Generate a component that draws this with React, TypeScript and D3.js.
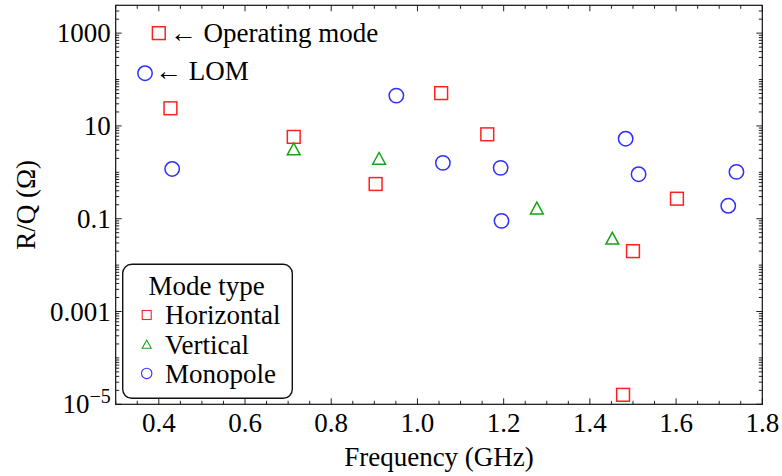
import React from "react";
import * as d3 from "d3";

const horizontalFreq = [0.427, 0.713, 0.903, 1.055, 1.162, 1.477, 1.5, 1.602];
const horizontalRQ = [24, 5.8, 0.56, 51, 6.6, 1.6e-5, 0.02, 0.27];
const verticalFreq = [0.713, 0.911, 1.277, 1.452];
const verticalRQ = [3.2, 2.0, 0.17, 0.038];
const monopoleFreq = [0.431, 0.951, 1.059, 1.193, 1.195, 1.483, 1.513, 1.721, 1.74];
const monopoleRQ = [1.18, 45, 1.6, 1.25, 0.09, 5.3, 0.91, 0.19, 1.02];

const xTickValues = [0.4, 0.6, 0.8, 1.0, 1.2, 1.4, 1.6, 1.8];
const xTickLabels = ["0.4", "0.6", "0.8", "1.0", "1.2", "1.4", "1.6", "1.8"];
const yTickValues = [1000, 10, 0.1, 0.001, 1e-5];
const yTickLabels = ["1000", "10", "0.1", "0.001", "10^-5"];

const legendTitle = "Mode type";
const legendLabels = ["Horizontal", "Vertical", "Monopole"];
const annotOperating = { f: 0.4, rq: 1000, text: "\u2190 Operating mode" };
const annotLOM = { f: 0.368, rq: 137, text: "\u2190 LOM" };

const W = 782, H = 476;
const L = 115.7, R = 762.3, T = 5.3, B = 404.3;
const RED = "#ff2020", GREEN = "#16a316", BLUE = "#2e2eff";
const FONT = "'Liberation Serif', 'DejaVu Serif', serif";
const FS = 27;

const x = d3.scaleLinear().domain([0.3, 1.8]).range([L, R]);
const y = d3.scaleLog().domain([1e-5, Math.pow(10, 3.6)]).range([B, T]);

function Square({ cx, cy, s, color, sw = 1.5 }: any) {
  return <rect x={cx - s / 2} y={cy - s / 2} width={s} height={s} fill="none" stroke={color} strokeWidth={sw} />;
}
function Circle({ cx, cy, r, color, sw = 1.5 }: any) {
  return <circle cx={cx} cy={cy} r={r} fill="none" stroke={color} strokeWidth={sw} />;
}
function Triangle({ cx, cy, w, h, color, sw = 1.5 }: any) {
  const p = `${cx - w / 2},${cy + h / 2} ${cx + w / 2},${cy + h / 2} ${cx},${cy - h / 2}`;
  return <polygon points={p} fill="none" stroke={color} strokeWidth={sw} strokeLinejoin="miter" />;
}

export default function App() {
  const xMinor = d3.range(0.3, 1.8001, 0.05).filter(
    (v) => !xTickValues.some((t) => Math.abs(t - v) < 1e-6)
  );
  const yMinor: number[] = [];
  for (let n = -5; n <= 3; n++) {
    for (let m = 1; m <= 9; m++) {
      const v = m * Math.pow(10, n);
      if (v > Math.pow(10, 3.6) || v < 1e-5) continue;
      if (yTickValues.some((t) => Math.abs(Math.log10(t) - Math.log10(v)) < 1e-6)) continue;
      yMinor.push(v);
    }
  }
  const tickColor = "#222";
  const maj = 6, mn = 3.5;

  return (
    <svg width={W} height={H} style={{ position: "absolute", left: 0, top: 0, background: "#fff" }} fontFamily={FONT}>
      <rect x={0} y={0} width={W} height={H} fill="#fff" />
      <g stroke={tickColor} strokeWidth={1}>
        {xTickValues.map((v, i) => (
          <g key={"xt" + i}>
            <line x1={x(v)} x2={x(v)} y1={B} y2={B - maj} />
            <line x1={x(v)} x2={x(v)} y1={T} y2={T + maj} />
          </g>
        ))}
        {xMinor.map((v, i) => (
          <g key={"xm" + i}>
            <line x1={x(v)} x2={x(v)} y1={B} y2={B - mn} />
            <line x1={x(v)} x2={x(v)} y1={T} y2={T + mn} />
          </g>
        ))}
        {yTickValues.map((v, i) => (
          <g key={"yt" + i}>
            <line x1={L} x2={L + maj} y1={y(v)} y2={y(v)} />
            <line x1={R} x2={R - maj} y1={y(v)} y2={y(v)} />
          </g>
        ))}
        {yMinor.map((v, i) => (
          <g key={"ym" + i}>
            <line x1={L} x2={L + mn} y1={y(v)} y2={y(v)} />
            <line x1={R} x2={R - mn} y1={y(v)} y2={y(v)} />
          </g>
        ))}
      </g>
      <rect x={L} y={T} width={R - L} height={B - T} fill="none" stroke="#111" strokeWidth={1.2} />

      <g fontSize={FS} fill="#000">
        {xTickValues.map((v, i) => (
          <text key={"xl" + i} x={x(v)} y={B + 28} textAnchor="middle">{xTickLabels[i]}</text>
        ))}
        {yTickValues.map((v, i) => {
          const lab = yTickLabels[i];
          if (lab.includes("^")) {
            const [base, exp] = lab.split("^");
            return (
              <text key={"yl" + i} x={L - 5} y={y(v) + 9} textAnchor="end">
                {base}
                <tspan dy={-10} fontSize={20}>{exp.replace("-", "\u2212")}</tspan>
              </text>
            );
          }
          return (
            <text key={"yl" + i} x={L - 5} y={y(v) + 9} textAnchor="end">{lab}</text>
          );
        })}
      </g>

      <text x={(L + R) / 2} y={466} textAnchor="middle" fontSize={FS}>Frequency (GHz)</text>
      <text transform={`translate(34.5, ${(T + B) / 2}) rotate(-90)`} textAnchor="middle" fontSize={FS}>R/Q (Ω)</text>

      {horizontalFreq.map((f, i) => (
        <Square key={"h" + i} cx={x(f)} cy={y(horizontalRQ[i])} s={12.8} color={RED} />
      ))}
      {verticalFreq.map((f, i) => (
        <Triangle key={"v" + i} cx={x(f)} cy={y(verticalRQ[i])} w={12.8} h={11.8} color={GREEN} />
      ))}
      {monopoleFreq.map((f, i) => (
        <Circle key={"m" + i} cx={x(f)} cy={y(monopoleRQ[i])} r={7.2} color={BLUE} />
      ))}

      <Square cx={x(annotOperating.f)} cy={y(annotOperating.rq)} s={12.8} color={RED} />
      <text x={x(annotOperating.f) + 11} y={y(annotOperating.rq) + 9} fontSize={FS}>{annotOperating.text}</text>
      <Circle cx={x(annotLOM.f)} cy={y(annotLOM.rq)} r={7.2} color={BLUE} />
      <text x={x(annotLOM.f) + 10} y={y(annotLOM.rq) + 6.5} fontSize={FS}>{annotLOM.text}</text>

      <g>
        <rect x={122.7} y={264.3} width={169.6} height={134} rx={9} ry={9} fill="#fff" stroke="#111" strokeWidth={1.4} />
        <text x={206.7} y={295} textAnchor="middle" fontSize={FS}>{legendTitle}</text>
        {legendLabels.map((lab, i) => {
          const cy = 315 + i * 29.2;
          const cx = 146.7;
          return (
            <g key={"lg" + i}>
              {i === 0 && <Square cx={cx} cy={cy} s={9} color={RED} sw={1.1} />}
              {i === 1 && <Triangle cx={cx} cy={cy} w={9} h={8.2} color={GREEN} sw={1.1} />}
              {i === 2 && <Circle cx={cx} cy={cy} r={5.2} color={BLUE} sw={1.1} />}
              <text x={165} y={cy + 9.3} fontSize={FS}>{lab}</text>
            </g>
          );
        })}
      </g>
    </svg>
  );
}
